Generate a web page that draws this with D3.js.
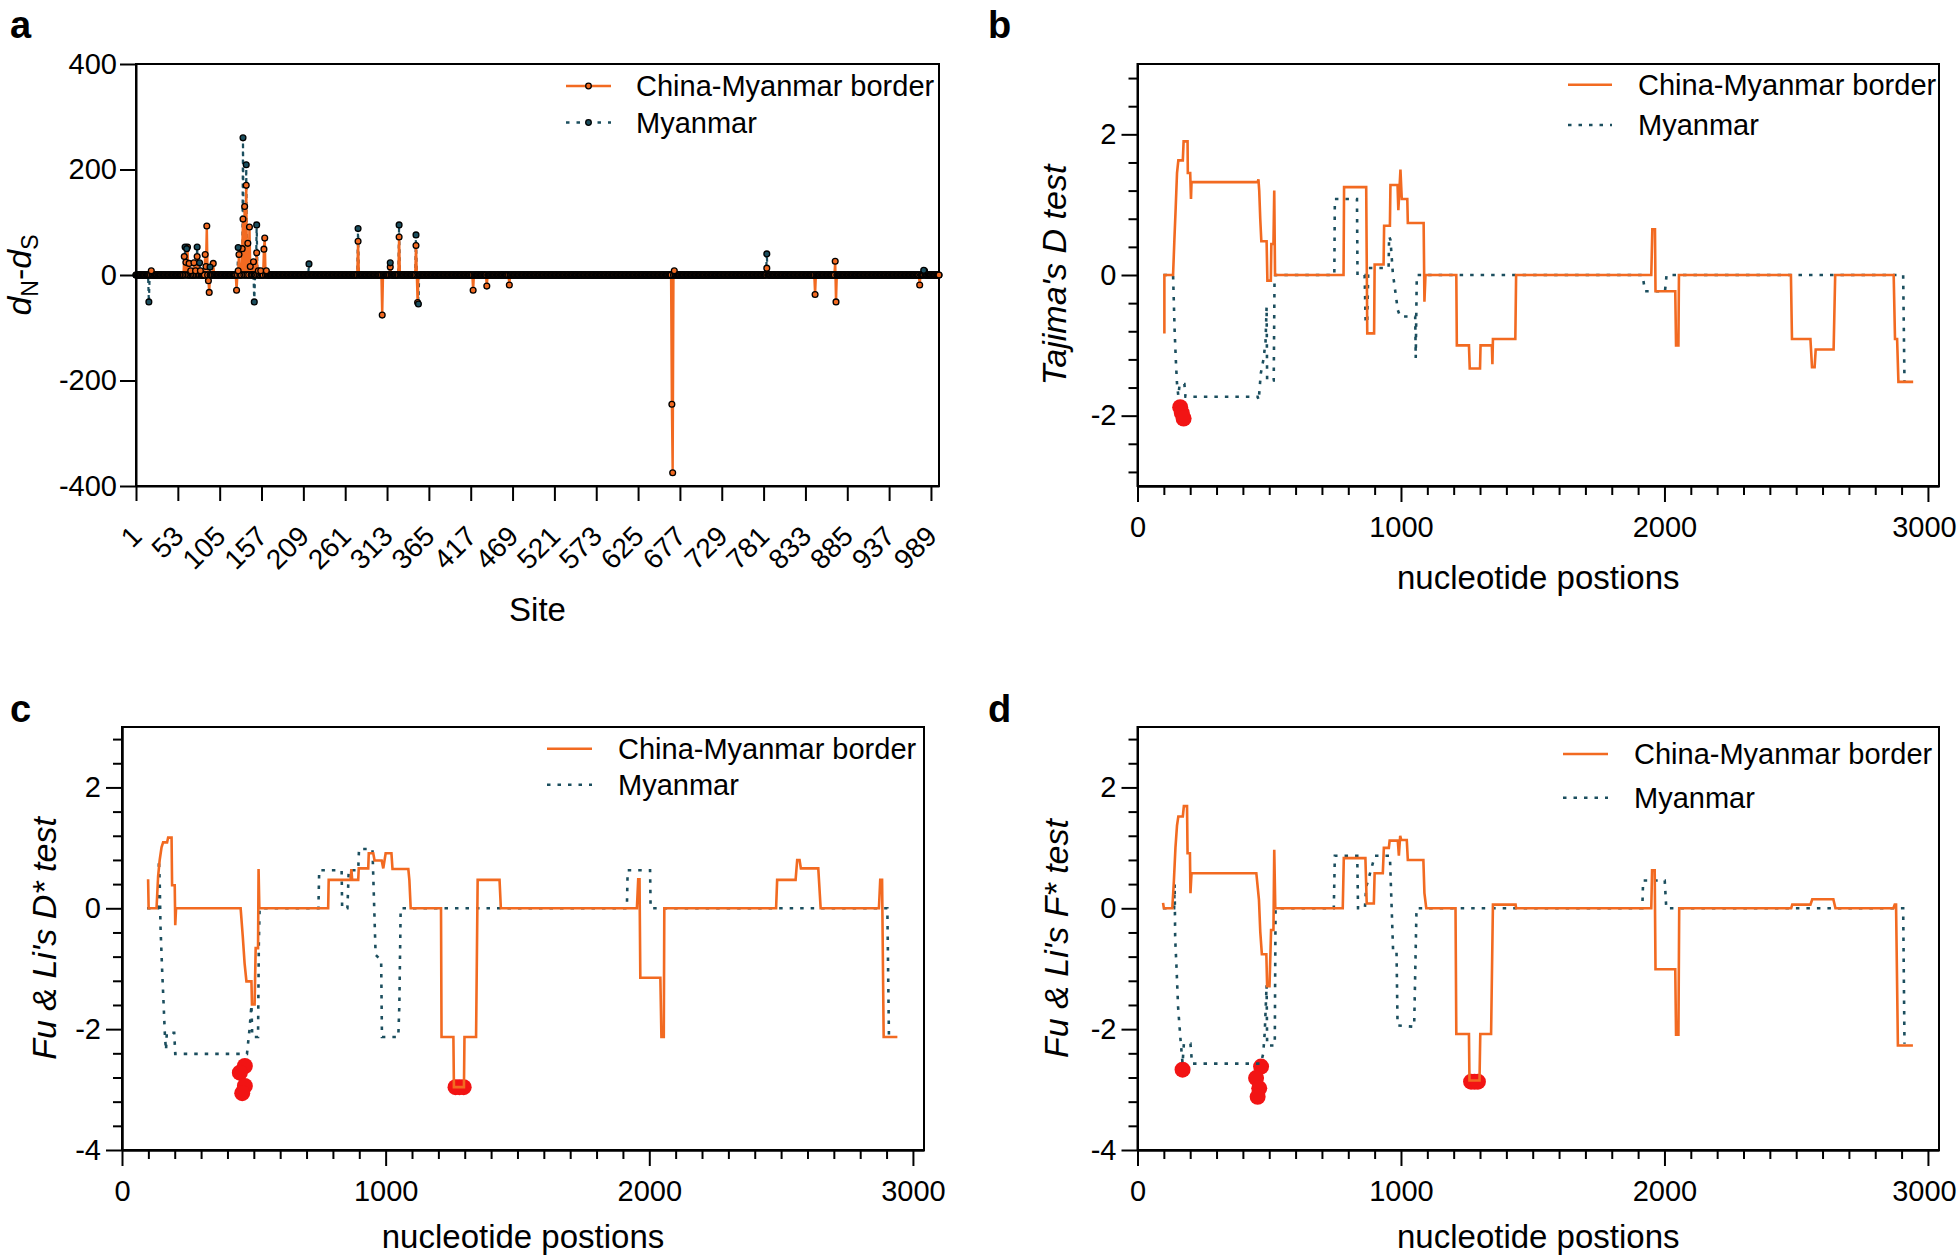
<!DOCTYPE html>
<html><head><meta charset="utf-8">
<script src="https://cdn.jsdelivr.net/npm/d3@7"></script>
<style>
html,body{margin:0;padding:0;background:#fff;}
svg{display:block;}
</style></head><body>
<svg id="chart" width="1960" height="1260"></svg>
<script>
// ---------------- DATA ----------------
// Panel a: dN-dS per codon site (sites not listed are 0)
const siteCount = 999;
const siteTickLabels = [1,53,105,157,209,261,313,365,417,469,521,573,625,677,729,781,833,885,937,989];
const dndsTicks = [-400,-200,0,200,400];
const dndsBorderSites  = [20,61,63,65,67,69,73,75,77,81,87,88,89,91,92,97,126,128,129,133,134,136,138,140,142,143,147,151,153,156,160,161,163,277,307,317,328,349,351,420,437,465,667,668,670,785,845,870,871,975,981];
const dndsBorderValues = [8,35,24,53,22,8,23,8,35,8,39,16,93,-11,-33,22,-29,8,39,50,106,130,170,60,91,16,25,42,8,8,49,70,8,64,-76,15,72,56,-52,-29,-21,-19,-245,-375,8,13,-37,26,-51,-19,8];
const dndsMyanmarSites  = [17,62,64,77,80,93,128,134,138,148,151,216,277,317,328,349,352,785,980];
const dndsMyanmarValues = [-51,53,50,53,23,15,52,260,209,-51,95,21,88,23,95,76,-55,40,9];

// Panels b-d: sliding window tests, [nucleotide position, value]
const positionTicks = [0,1000,2000,3000];
const tajimaBorder = [[102,-0.83],[102,0],[135,0],[140,0.5],[145,0.96],[150,1.45],[155,1.63],[172,1.63],[175,1.9],[190,1.9],[191,1.45],[200,1.45],[203,1.08],[205,1.32],[456,1.32],[459,1.36],[462,1.2],[466,0.79],[470,0.48],[490,0.48],[493,-0.08],[506,-0.08],[508,0.44],[516,0.44],[519,1.2],[522,0],[782,0],[784,1.25],[868,1.25],[872,-0.83],[898,-0.83],[900,0.15],[934,0.15],[936,0.7],[958,0.7],[960,1.28],[987,1.28],[990,0.92],[998,1.5],[1003,1.08],[1024,1.08],[1026,0.74],[1086,0.74],[1089,-0.38],[1093,0],[1210,0],[1212,-1.0],[1258,-1.0],[1261,-1.33],[1300,-1.33],[1302,-1.0],[1345,-1.0],[1347,-1.27],[1349,-0.91],[1434,-0.91],[1437,0],[1950,0],[1954,0.65],[1964,0.65],[1966,-0.23],[2041,-0.23],[2044,-1.0],[2053,-1.0],[2055,0],[2480,0],[2484,-0.91],[2554,-0.91],[2560,-1.31],[2570,-1.31],[2574,-1.06],[2642,-1.06],[2648,0],[2870,0],[2875,-0.91],[2883,-0.91],[2888,-1.52],[2944,-1.52]];
const tajimaMyanmar = [[99,0],[135,0],[141,-0.8],[146,-1.25],[150,-1.55],[155,-1.72],[160,-1.55],[178,-1.55],[182,-1.73],[456,-1.73],[460,-1.78],[468,-1.4],[478,-1.2],[486,-0.95],[490,-0.45],[492,-1.5],[517,-1.5],[520,-0.1],[523,0],[747,0],[749,1.08],[833,1.08],[835,0],[862,0],[866,-0.68],[872,-0.68],[876,0.1],[953,0.1],[955,0.55],[960,0.5],[969,0.03],[988,-0.5],[997,-0.59],[1054,-0.59],[1056,-1.18],[1060,0],[1917,0],[1926,-0.23],[2002,-0.23],[2008,0],[2906,0],[2911,-1.52]];
const tajimaSignificant = [[162,-1.88],[168,-1.96],[175,-2.04]];

const fuLiDBorder = [[99,0.48],[101,0],[131,0],[137,0.53],[143,0.8],[150,1.01],[156,1.09],[171,1.09],[175,1.17],[188,1.17],[190,0.38],[200,0.38],[202,-0.28],[205,0],[450,0],[458,-0.46],[465,-0.91],[472,-1.21],[491,-1.21],[493,-1.59],[503,-1.59],[507,-0.66],[516,-0.66],[518,0.65],[521,0],[782,0],[784,0.47],[867,0.47],[870,0.65],[873,0.47],[896,0.47],[898,0.66],[934,0.66],[936,0.91],[953,0.91],[958,0.79],[985,0.79],[991,0.66],[1000,0.91],[1022,0.91],[1026,0.65],[1086,0.65],[1090,0.47],[1095,0],[1210,0],[1212,-2.13],[1257,-2.13],[1259,-2.96],[1297,-2.96],[1299,-2.13],[1343,-2.13],[1349,0.47],[1432,0.47],[1437,0],[1953,0],[1958,0.48],[1963,0.48],[1966,-1.15],[2042,-1.15],[2046,-2.13],[2055,-2.13],[2057,0],[2481,0],[2485,0.47],[2555,0.47],[2561,0.8],[2570,0.8],[2575,0.66],[2641,0.66],[2650,0],[2871,0],[2876,0.47],[2883,0.47],[2889,-2.13],[2941,-2.13]];
const fuLiDMyanmar = [[95,0],[137,0],[140,0.8],[143,0.45],[146,-0.3],[152,-1.0],[158,-1.6],[163,-2.13],[167,-2.35],[170,-2.06],[198,-2.06],[202,-2.41],[474,-2.41],[484,-1.99],[491,-1.6],[494,-2.13],[516,-2.13],[519,-0.6],[522,0],[745,0],[748,0.63],[833,0.63],[835,0],[855,0],[860,0.63],[896,0.63],[899,0.98],[950,0.98],[962,-0.77],[983,-0.86],[986,-2.13],[1048,-2.13],[1052,-1.6],[1057,0],[1915,0],[1918,0.63],[2003,0.63],[2005,0],[2903,0],[2909,-2.1]];
const fuLiDSignificant = [[466,-2.61],[447,-2.72],[466,-2.94],[456,-3.06],[1265,-2.96],[1280,-2.96],[1296,-2.96]];

const fuLiFBorder = [[97,0.09],[100,0],[132,0],[138,0.44],[144,1.0],[150,1.37],[155,1.52],[172,1.52],[176,1.69],[188,1.69],[190,0.91],[199,0.91],[201,0.25],[205,0.58],[451,0.58],[461,0.14],[466,-0.39],[472,-0.76],[489,-0.76],[492,-1.29],[501,-1.29],[507,-0.36],[516,-0.36],[519,0.97],[523,0],[779,0],[783,0.83],[865,0.83],[870,0.08],[897,0.08],[900,0.58],[931,0.58],[935,1.0],[954,1.0],[957,1.12],[988,1.12],[992,0.87],[997,1.2],[1001,1.13],[1022,1.13],[1026,0.8],[1085,0.8],[1089,0.25],[1096,0],[1207,0],[1210,-2.08],[1258,-2.08],[1260,-2.85],[1298,-2.85],[1301,-2.08],[1342,-2.08],[1349,0.06],[1435,0.06],[1437,0],[1950,0],[1953,0.63],[1963,0.63],[1966,-1.01],[2041,-1.01],[2044,-2.09],[2053,-2.09],[2056,0],[2481,0],[2485,0.06],[2554,0.06],[2561,0.15],[2641,0.15],[2649,0],[2869,0],[2874,0.06],[2879,0.06],[2886,-2.27],[2943,-2.27]];
const fuLiFMyanmar = [[97,0],[139,0],[141,0.4],[143,-0.5],[148,-0.97],[154,-1.63],[163,-2.16],[171,-2.57],[176,-2.24],[201,-2.24],[207,-2.57],[468,-2.57],[477,-2.41],[483,-2.05],[490,-1.27],[492,-2.27],[521,-2.27],[524,0],[745,0],[749,0.87],[834,0.87],[837,0],[863,0],[868,0.35],[901,0.87],[958,0.87],[970,-0.69],[983,-0.69],[987,-1.94],[1050,-1.96],[1059,0],[1916,0],[1919,0.46],[2001,0.46],[2007,0],[2906,0],[2911,-2.24]];
const fuLiFSignificant = [[171,-2.67],[469,-2.62],[450,-2.81],[462,-2.98],[456,-3.12],[1266,-2.87],[1279,-2.87],[1292,-2.87]];

const seriesNames = ["China-Myanmar border", "Myanmar"];

// ---------------- DRAW ----------------
const FONT = '"Liberation Sans", Arial, Helvetica, sans-serif';
const ORANGE = '#f26a21', TEAL = '#1b4e5e', RED = '#f21414';
const svg = d3.select('#chart').style('font-family', FONT);
const hyphenFmt = d => (d < 0 ? '-' + Math.abs(d) : String(d));

function frame(p){
  svg.append('rect').attr('x',p.left).attr('y',p.top)
    .attr('width',p.right-p.left).attr('height',p.bottom-p.top)
    .attr('fill','none').attr('stroke','#000').attr('stroke-width',2);
}
function styleAxis(g, fs){
  g.attr('font-family', FONT).attr('font-size', fs);
  g.selectAll('path.domain').attr('stroke','#000').attr('stroke-width',2);
  g.selectAll('.tick line').attr('stroke','#000').attr('stroke-width',2);
  g.selectAll('.tick text').attr('fill','#000');
}
function panelLetter(t, x, y){
  svg.append('text').attr('x',x).attr('y',y).text(t)
    .attr('font-size',38).attr('font-weight','bold').attr('fill','#000');
}
function legend(lx1, lx2, ys, tx, withMarkers){
  const styles = [{c:ORANGE, dash:null, w:2.5},{c:TEAL, dash:'3.5,7', w:2.5}];
  seriesNames.forEach((name,i)=>{
    const s = styles[i];
    const l = svg.append('line').attr('x1',lx1).attr('x2',lx2).attr('y1',ys[i]).attr('y2',ys[i])
      .attr('stroke',s.c).attr('stroke-width',s.w);
    if (s.dash) l.attr('stroke-dasharray', s.dash);
    if (withMarkers){
      svg.append('circle').attr('cx',(lx1+lx2)/2).attr('cy',ys[i]).attr('r',2.8)
        .attr('fill',s.c).attr('stroke','#000').attr('stroke-width',1.3);
    }
    svg.append('text').attr('x',tx).attr('y',ys[i]+10).text(name)
      .attr('font-size',29).attr('fill','#000');
  });
}

// ---- Panel a ----
(function(){
  const p = {left:136,right:939,top:64,bottom:486};
  const x = d3.scaleLinear().domain([1, siteCount]).range([p.left, p.right]);
  const y = d3.scaleLinear().domain([-400,400]).range([p.bottom, p.top]);
  function full(sites, values){
    const m = new Map(sites.map((s,i)=>[s, values[i]]));
    return d3.range(1, siteCount+1).map(s=>({site:s, value: m.has(s)? m.get(s) : 0}));
  }
  const border = full(dndsBorderSites, dndsBorderValues);
  const myan = full(dndsMyanmarSites, dndsMyanmarValues);
  frame(p);
  const line = d3.line().x(d=>x(d.site)).y(d=>y(d.value));
  svg.append('path').datum(myan).attr('d',line).attr('fill','none')
    .attr('stroke',TEAL).attr('stroke-width',2.2).attr('stroke-dasharray','4,4');
  svg.append('path').datum(border).attr('d',line).attr('fill','none')
    .attr('stroke',ORANGE).attr('stroke-width',2.4);
  const dots = (data, fill, filt) => svg.append('g').selectAll('circle')
    .data(data.filter(filt)).join('circle')
    .attr('cx',d=>x(d.site)).attr('cy',d=>y(d.value)).attr('r',2.9)
    .attr('fill',fill).attr('stroke','#000').attr('stroke-width',1.3);
  dots(myan, TEAL, d=>d.value===0);
  dots(border, ORANGE, d=>d.value===0);
  dots(border, ORANGE, d=>d.value!==0);
  dots(myan, TEAL, d=>d.value!==0);

  const gx = svg.append('g').attr('transform',`translate(0,${p.bottom})`)
    .call(d3.axisBottom(x).tickValues(siteTickLabels).tickSize(15).tickSizeOuter(0).tickFormat(d3.format('d')));
  styleAxis(gx, 28);
  gx.selectAll('.tick text').attr('x',0).attr('y',0).attr('dy',0)
    .attr('text-anchor','end').attr('transform','translate(7,52) rotate(-45)');
  const gy = svg.append('g').attr('transform',`translate(${p.left},0)`)
    .call(d3.axisLeft(y).tickValues(dndsTicks).tickSize(16).tickPadding(3).tickSizeOuter(0).tickFormat(hyphenFmt));
  styleAxis(gy, 29);

  const yl = svg.append('text').attr('transform','translate(31,275) rotate(-90)')
    .attr('text-anchor','middle').attr('font-size',34).attr('fill','#000');
  yl.append('tspan').attr('font-style','italic').text('d');
  yl.append('tspan').attr('font-size',23).attr('dy',7).text('N');
  yl.append('tspan').attr('dy',-7).text('-');
  yl.append('tspan').attr('font-style','italic').text('d');
  yl.append('tspan').attr('font-size',23).attr('dy',7).text('S');
  svg.append('text').attr('x',(p.left+p.right)/2).attr('y',621).attr('text-anchor','middle')
    .attr('font-size',33).attr('fill','#000').text('Site');
  legend(566, 611, [86,122.5], 636, true);
  panelLetter('a', 10, 38);
})();

// ---- Panels b-d ----
const posMax = 3042;
function stepPanel(p, yDom, border, myan, sig, ylabel, xlabelY, ylabX, leg){
  const x = d3.scaleLinear().domain([0,posMax]).range([p.left,p.right]);
  const y = d3.scaleLinear().domain(yDom).range([p.bottom,p.top]);
  frame(p);
  const line = d3.line().x(d=>x(d[0])).y(d=>y(d[1]));
  svg.append('g').selectAll('circle').data(sig).join('circle')
    .attr('cx',d=>x(d[0])).attr('cy',d=>y(d[1])).attr('r',8).attr('fill',RED);
  svg.append('path').datum(myan).attr('d',line).attr('fill','none')
    .attr('stroke',TEAL).attr('stroke-width',2.6).attr('stroke-dasharray','3.5,7');
  svg.append('path').datum(border).attr('d',line).attr('fill','none')
    .attr('stroke',ORANGE).attr('stroke-width',2.6);
  // x axis
  const minorX = d3.range(0,31).map(i=>i*100).filter(v=>v%1000!==0);
  const gxm = svg.append('g').attr('transform',`translate(0,${p.bottom})`)
    .call(d3.axisBottom(x).tickValues(minorX).tickSize(9).tickSizeOuter(0).tickFormat(''));
  styleAxis(gxm, 29);
  const gx = svg.append('g').attr('transform',`translate(0,${p.bottom})`)
    .call(d3.axisBottom(x).tickValues(positionTicks).tickSize(16).tickPadding(14).tickSizeOuter(0).tickFormat(d3.format('d')));
  styleAxis(gx, 29);
  // keep the last label inside the page
  gx.selectAll('.tick text').filter(d => d === 3000 && p.right > 1900).attr('dx', -4);
  // y axis
  const lo = Math.ceil(yDom[0]/0.4 - 1e-6), hi = Math.floor(yDom[1]/0.4 + 1e-6);
  const allY = d3.range(lo, hi+1).map(i=>+(i*0.4).toFixed(2));
  const isMajor = v => Math.abs(v/2 - Math.round(v/2)) < 1e-6;
  const gym = svg.append('g').attr('transform',`translate(${p.left},0)`)
    .call(d3.axisLeft(y).tickValues(allY.filter(v=>!isMajor(v))).tickSize(9).tickSizeOuter(0).tickFormat(''));
  styleAxis(gym, 29);
  const gy = svg.append('g').attr('transform',`translate(${p.left},0)`)
    .call(d3.axisLeft(y).tickValues(allY.filter(isMajor)).tickSize(16).tickPadding(5).tickSizeOuter(0).tickFormat(hyphenFmt));
  styleAxis(gy, 29);
  // labels
  svg.append('text').attr('transform',`translate(${ylabX},${(p.top+p.bottom)/2}) rotate(-90)`)
    .attr('text-anchor','middle').attr('font-size',34).attr('font-style','italic').attr('fill','#000').text(ylabel);
  svg.append('text').attr('x',(p.left+p.right)/2).attr('y',xlabelY).attr('text-anchor','middle')
    .attr('font-size',33).attr('fill','#000').text('nucleotide postions');
  legend(leg[0], leg[1], leg[2], leg[3], false);
}

stepPanel({left:1137.5,right:1939,top:64,bottom:486}, [-3,3], tajimaBorder, tajimaMyanmar, tajimaSignificant,
  "Tajima's D test", 589, 1066, [1568,1612,[84.7,125],1638]);
panelLetter('b', 988, 38);
stepPanel({left:122,right:924,top:727,bottom:1150}, [-4,3], fuLiDBorder, fuLiDMyanmar, fuLiDSignificant,
  "Fu & Li's D* test", 1248, 56, [547,592,[748.7,784.7],618]);
panelLetter('c', 10, 722);
stepPanel({left:1137.5,right:1939,top:727,bottom:1150}, [-4,3], fuLiFBorder, fuLiFMyanmar, fuLiFSignificant,
  "Fu & Li's F* test", 1248, 1068, [1563,1608,[754,797.7],1634]);
panelLetter('d', 988, 722);
</script>
</body></html>
